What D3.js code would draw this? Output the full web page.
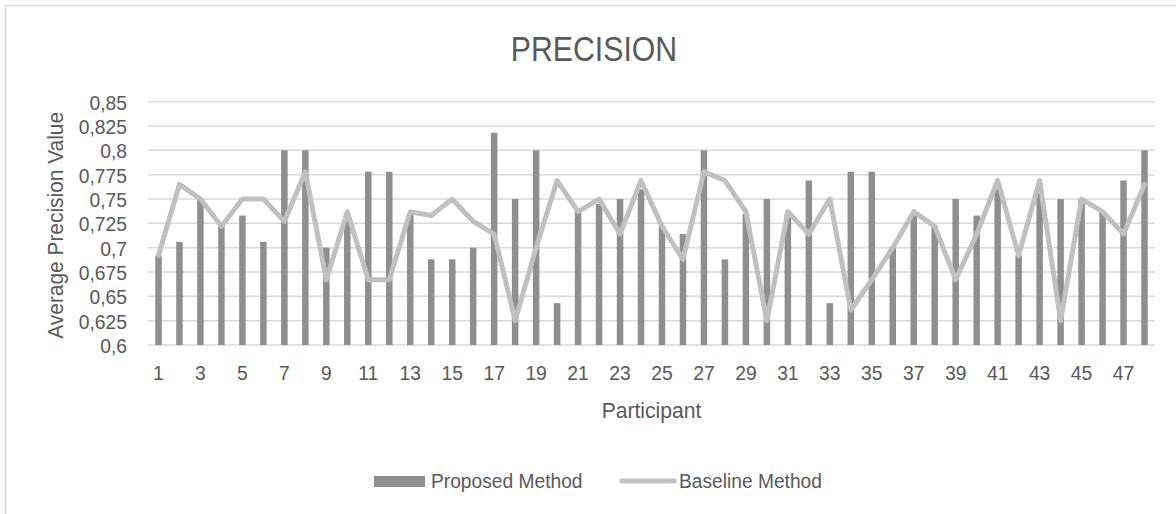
<!DOCTYPE html>
<html>
<head>
<meta charset="utf-8">
<script src="https://cdn.jsdelivr.net/npm/d3@7"></script>
<style>
  html, body { margin: 0; padding: 0; background: #fff; }
  svg { display: block; }
  svg text { font-family: "Liberation Sans", Arial, sans-serif; }
</style>
</head>
<body>
<svg id="chart" width="1176" height="514"></svg>
<script>
// Participants 1..48
const participants = d3.range(1, 49);

// Average precision per participant
const proposedMethod = [
  0.692, 0.706, 0.750, 0.722, 0.733, 0.706, 0.800, 0.800, 0.700, 0.733,
  0.778, 0.778, 0.735, 0.688, 0.688, 0.700, 0.818, 0.750, 0.800, 0.643,
  0.737, 0.745, 0.750, 0.760, 0.722, 0.714, 0.800, 0.688, 0.735, 0.750,
  0.735, 0.769, 0.643, 0.778, 0.778, 0.700, 0.733, 0.722, 0.750, 0.733,
  0.765, 0.692, 0.765, 0.750, 0.750, 0.737, 0.769, 0.800
];
const baselineMethod = [
  0.692, 0.765, 0.750, 0.722, 0.750, 0.750, 0.727, 0.778, 0.667, 0.737,
  0.667, 0.667, 0.737, 0.733, 0.750, 0.727, 0.714, 0.625, 0.700, 0.769,
  0.737, 0.750, 0.714, 0.769, 0.722, 0.688, 0.778, 0.769, 0.737, 0.625,
  0.737, 0.714, 0.750, 0.636, 0.667, 0.700, 0.737, 0.722, 0.667, 0.714,
  0.769, 0.692, 0.769, 0.625, 0.750, 0.737, 0.714, 0.765
];

// Axis ticks
const yTicks = [0.6, 0.625, 0.65, 0.675, 0.7, 0.725, 0.75, 0.775, 0.8, 0.825, 0.85];
const xTickLabels = participants.filter(p => p % 2 === 1);

const seriesNames = ["Proposed Method", "Baseline Method"];

const barColor = "#8f8f8f";
const lineColor = "#c0c0c0";
const gridColor = "#d9d9d9";
const textColor = "#595959";

// condensed lettering
const narrow = s => `scale(${s},1)`;

const svg = d3.select("#chart");

// chart-area frame
svg.append("rect")
  .attr("x", 5.5).attr("y", 5.5)
  .attr("width", 1190).attr("height", 530)
  .attr("fill", "#fff")
  .attr("stroke", gridColor)
  .attr("stroke-width", 1.5);

const plot = { left: 148, right: 1155, top: 101.7, bottom: 345 };

const x = d3.scaleBand()
  .domain(participants)
  .range([plot.left, plot.right])
  .paddingInner(0.69)
  .paddingOuter(0.345);

const y = d3.scaleLinear()
  .domain([0.6, 0.85])
  .range([plot.bottom, plot.top]);

const fmt = d => String(+d.toFixed(3)).replace(".", ",");

// horizontal gridlines
svg.append("g")
  .selectAll("line")
  .data(yTicks)
  .join("line")
  .attr("x1", plot.left).attr("x2", plot.right)
  .attr("y1", d => y(d)).attr("y2", d => y(d))
  .attr("stroke", gridColor)
  .attr("stroke-width", 1.5);

// y axis labels
const yAxis = svg.append("g")
  .attr("transform", `translate(${plot.left - 21},0)`)
  .call(d3.axisLeft(y).tickValues(yTicks).tickFormat(fmt).tickSize(0).tickPadding(0));
yAxis.attr("font-family", null);
yAxis.select(".domain").remove();
yAxis.selectAll("text")
  .attr("fill", textColor)
  .attr("font-size", 21)
  .attr("dy", "0.36em")
  .attr("transform", narrow(0.92));

// x axis labels (every other participant)
const xAxis = svg.append("g")
  .attr("transform", `translate(0,${plot.bottom})`)
  .call(d3.axisBottom(x).tickValues(xTickLabels).tickSize(0).tickPadding(0));
xAxis.attr("font-family", null);
xAxis.select(".domain").remove();
xAxis.selectAll("text")
  .attr("fill", textColor)
  .attr("font-size", 21)
  .attr("y", 35)
  .attr("dy", 0)
  .attr("transform", narrow(0.92));

// bars: proposed method
svg.append("g")
  .selectAll("rect")
  .data(participants)
  .join("rect")
  .attr("x", d => x(d))
  .attr("width", x.bandwidth())
  .attr("y", (d, i) => y(proposedMethod[i]))
  .attr("height", (d, i) => y(0.6) - y(proposedMethod[i]))
  .attr("fill", barColor);

// line: baseline method
const line = d3.line()
  .x((d, i) => x(participants[i]) + x.bandwidth() / 2)
  .y(d => y(d));

svg.append("path")
  .datum(baselineMethod)
  .attr("d", line)
  .attr("fill", "none")
  .attr("stroke", lineColor)
  .attr("stroke-width", 5)
  .attr("stroke-linejoin", "round")
  .attr("stroke-linecap", "round");

// title
svg.append("text")
  .attr("transform", `translate(594,61) ${narrow(0.84)}`)
  .attr("text-anchor", "middle")
  .attr("font-size", 36)
  .attr("fill", textColor)
  .text("PRECISION");

// axis titles
svg.append("text")
  .attr("transform", `translate(${(plot.left + plot.right) / 2},418) ${narrow(0.96)}`)
  .attr("text-anchor", "middle")
  .attr("font-size", 22)
  .attr("fill", textColor)
  .text("Participant");

svg.append("text")
  .attr("transform", `translate(63,${(plot.top + plot.bottom) / 2 + 2}) rotate(-90) ${narrow(0.95)}`)
  .attr("text-anchor", "middle")
  .attr("font-size", 22)
  .attr("fill", textColor)
  .text("Average Precision Value");

// legend
const legend = svg.append("g");
legend.append("rect")
  .attr("x", 374).attr("y", 476)
  .attr("width", 51).attr("height", 11)
  .attr("fill", barColor);
legend.append("text")
  .attr("transform", `translate(431,488) ${narrow(0.96)}`)
  .attr("font-size", 20)
  .attr("fill", textColor)
  .text(seriesNames[0]);
legend.append("line")
  .attr("x1", 622).attr("x2", 674)
  .attr("y1", 481).attr("y2", 481)
  .attr("stroke", lineColor)
  .attr("stroke-width", 5)
  .attr("stroke-linecap", "round");
legend.append("text")
  .attr("transform", `translate(679,488) ${narrow(0.96)}`)
  .attr("font-size", 20)
  .attr("fill", textColor)
  .text(seriesNames[1]);
</script>
</body>
</html>
